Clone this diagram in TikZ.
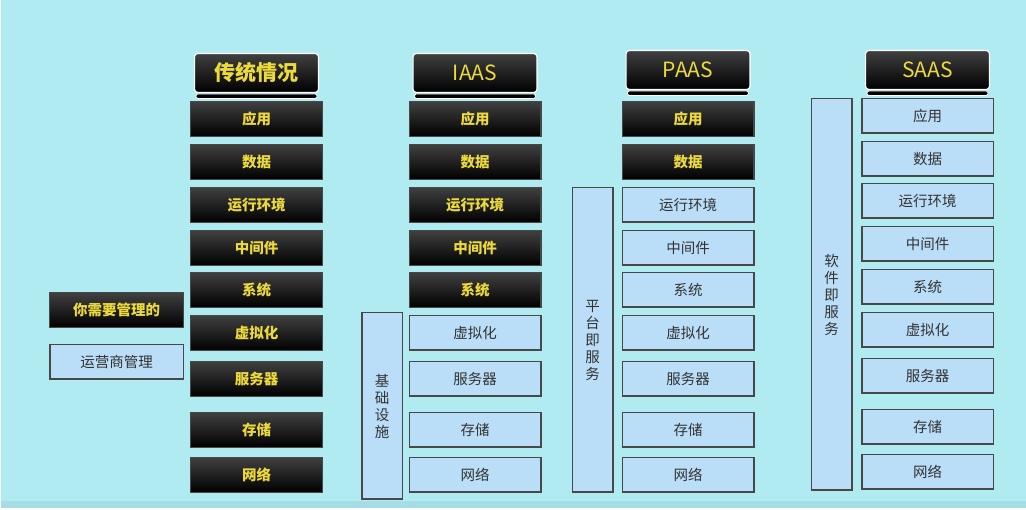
\documentclass[tikz,border=0pt]{standalone}
\usepackage{fontspec}
\setmainfont{Noto Sans CJK SC}
\usepackage{tikz}
\usetikzlibrary{positioning}
\definecolor{bgcyan}{RGB}{176,235,242}
\definecolor{bgstrip}{RGB}{164,221,230}
\definecolor{myyellow}{RGB}{236,218,60}
\definecolor{mytop}{RGB}{64,64,64}
\definecolor{myedge}{RGB}{72,72,72}
\definecolor{litefill}{RGB}{187,222,248}
\definecolor{mytext}{RGB}{50,50,50}
\tikzset{
  darkbox/.style={rectangle, draw=myedge, top color=mytop, bottom color=black,
    minimum width=131.8pt, minimum height=34.8pt, inner sep=0pt,
    text=myyellow, font=\fontsize{14.5}{17}\selectfont\bfseries, line width=1.2pt},
  litebox/.style={rectangle, draw=myedge, fill=litefill,
    minimum width=131.5pt, minimum height=34.5pt, inner sep=0pt,
    text=mytext, font=\fontsize{14.5}{17}\selectfont, line width=1.5pt},
  sidebox/.style={litebox, minimum width=40.5pt, align=center},
  header/.style={rectangle, draw=white, top color=mytop, bottom color=black,
    minimum width=123.8pt, minimum height=38.8pt, rounded corners=3pt,
    text=myyellow, font=\fontsize{21}{24}\selectfont, line width=1.2pt},
  hdrbase/.style={fill=black, draw=white, line width=0.8pt, rounded corners=1.5pt}
}
\begin{document}
\begin{tikzpicture}[x=1pt, y=-1pt]
  \useasboundingbox (0,0) rectangle (1026,510);
  % Background
  \fill[white] (0,0) rectangle (1026,510);
  \fill[bgcyan] (1,0) rectangle (1026,501);
  \fill[bgstrip] (1,501) rectangle (1026,508);

  % Legend
  \node[darkbox, minimum width=133.8pt] (mine) at (116.5,310) {你需要管理的};
  \node[litebox, minimum width=133.5pt] (vendor) at (116.5,362) {运营商管理};

  % Traditional
  \node[darkbox] (tapp) at (256.5,119) {应用};
  \node[darkbox, below=7pt of tapp] (tdata) {数据};
  \node[darkbox, below=7pt of tdata] (trt) {运行环境};
  \node[darkbox, below=7pt of trt] (tmid) {中间件};
  \node[darkbox, below=6pt of tmid] (tsys) {系统};
  \node[darkbox, below=7pt of tsys] (tvirt) {虚拟化};
  \node[darkbox, below=10pt of tvirt] (tsrv) {服务器};
  \node[darkbox, below=15pt of tsrv] (tsto) {存储};
  \node[darkbox, below=9pt of tsto] (tnet) {网络};
  \node[header, font=\fontsize{21}{24}\selectfont\bfseries, above=8pt of tapp] (thead) {传统情况};

  % IAAS
  \node[darkbox] (iapp) at (475,119) {应用};
  \node[darkbox, below=7pt of iapp] (idata) {数据};
  \node[darkbox, below=7pt of idata] (irt) {运行环境};
  \node[darkbox, below=7pt of irt] (imid) {中间件};
  \node[darkbox, below=6pt of imid] (isys) {系统};
  \node[litebox, below=7pt of isys] (ivirt) {虚拟化};
  \node[litebox, below=10pt of ivirt] (isrv) {服务器};
  \node[litebox, below=15pt of isrv] (isto) {存储};
  \node[litebox, below=9pt of isto] (inet) {网络};
  \node[header, above=8pt of iapp] (ihead) {IAAS};
  \node[sidebox, minimum height=186.5pt] (iside) at (382,406) {基\\础\\设\\施};

  % PAAS
  \node[darkbox] (papp) at (688,119) {应用};
  \node[darkbox, below=7pt of papp] (pdata) {数据};
  \node[litebox, below=7pt of pdata] (prt) {运行环境};
  \node[litebox, below=7pt of prt] (pmid) {中间件};
  \node[litebox, below=6pt of pmid] (psys) {系统};
  \node[litebox, below=7pt of psys] (pvirt) {虚拟化};
  \node[litebox, below=10pt of pvirt] (psrv) {服务器};
  \node[litebox, below=15pt of psrv] (psto) {存储};
  \node[litebox, below=9pt of psto] (pnet) {网络};
  \node[header, above=11pt of papp] (phead) {PAAS};
  \node[sidebox, minimum height=304.5pt] (pside) at (592.5,340) {平\\台\\即\\服\\务};

  % SAAS
  \node[litebox] (sapp) at (927.5,116) {应用};
  \node[litebox, below=7pt of sapp] (sdata) {数据};
  \node[litebox, below=6pt of sdata] (srt) {运行环境};
  \node[litebox, below=7pt of srt] (smid) {中间件};
  \node[litebox, below=7pt of smid] (ssys) {系统};
  \node[litebox, below=7pt of ssys] (svirt) {虚拟化};
  \node[litebox, below=10pt of svirt] (ssrv) {服务器};
  \node[litebox, below=15pt of ssrv] (ssto) {存储};
  \node[litebox, below=9pt of ssto] (snet) {网络};
  \node[header, above=8pt of sapp] (shead) {SAAS};
  \node[sidebox, minimum height=391.5pt] (sside) at (831.5,294.5) {软\\件\\即\\服\\务};

  % Header bases
  \draw[hdrbase] ([xshift=2pt,yshift=-1pt]thead.south west) rectangle ([xshift=-2pt,yshift=-5.5pt]thead.south east);
  \draw[hdrbase] ([xshift=2pt,yshift=-1pt]ihead.south west) rectangle ([xshift=-2pt,yshift=-5.5pt]ihead.south east);
  \draw[hdrbase] ([xshift=2pt,yshift=-1pt]phead.south west) rectangle ([xshift=-2pt,yshift=-5.5pt]phead.south east);
  \draw[hdrbase] ([xshift=2pt,yshift=-1pt]shead.south west) rectangle ([xshift=-2pt,yshift=-5.5pt]shead.south east);

\end{tikzpicture}
\end{document}
